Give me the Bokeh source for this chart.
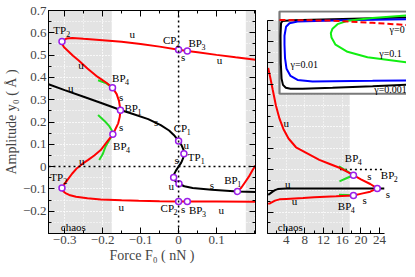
from bokeh.plotting import figure
from bokeh.layouts import row
from bokeh.models import Range1d, LinearAxis, FixedTicker, BoxAnnotation, Span, ColumnDataSource
from bokeh.core.properties import value
from bokeh.embed import file_html
from bokeh.resources import INLINE

FONT = "Liberation Serif"
RED, BLACK, GREEN, BLUE, PURPLE = "#ff0000", "#000000", "#22dd22", "#0000ff", "#9b1fe8"
GRAY = "#e3e3e3"

# ---------------- left panel: force F0 (nN) vs amplitude y0 (A) ----------------
red_x = [0.2025, 0.15, 0.1, 0.05, 0.023, 0.0, -0.05, -0.1, -0.15, -0.2, -0.25, -0.28, -0.295, -0.303, -0.307,
         -0.306, -0.3015, -0.2925, -0.278, -0.263, -0.24, -0.213, -0.19, -0.174, -0.163, -0.157, -0.153,
         -0.155, -0.159, -0.1675, -0.173, -0.19, -0.205, -0.222, -0.238, -0.2535, -0.2675, -0.2805, -0.2925,
         -0.301, -0.307,
         -0.305, -0.298, -0.288, -0.27, -0.24, -0.205, -0.15, -0.105, -0.05, 0.0, 0.023, 0.1, 0.2025]
red_y = [0.479, 0.490, 0.501, 0.513, 0.518, 0.524, 0.538, 0.550, 0.560, 0.567, 0.573, 0.577, 0.574, 0.567, 0.561,
         0.548, 0.535, 0.521, 0.497, 0.476, 0.44, 0.402, 0.376, 0.354, 0.325, 0.295, 0.253,
         0.222, 0.194, 0.164, 0.145, 0.108, 0.074, 0.05, 0.03, 0.012, -0.007, -0.032, -0.0595,
         -0.08, -0.096,
         -0.108, -0.119, -0.127, -0.135, -0.142, -0.147, -0.151, -0.153, -0.155, -0.156, -0.156, -0.157, -0.158]
red_tail_x = [0.155, 0.165, 0.175, 0.185, 0.195, 0.2025]
red_tail_y = [-0.111, -0.095, -0.07, -0.045, -0.015, 0.005]
black_x = [-0.3425, -0.3, -0.25, -0.2, -0.153, -0.12, -0.08, -0.047, -0.025, -0.012, 0.0, 0.008, 0.013, 0.014,
           0.012, 0.007, 0.0, -0.007, -0.012, -0.013, -0.009, 0.001, 0.015, 0.037, 0.087, 0.155, 0.2025]
black_y = [0.369, 0.343, 0.313, 0.283, 0.254, 0.236, 0.213, 0.186, 0.162, 0.141, 0.115, 0.095, 0.075, 0.058,
           0.038, 0.018, 0.0, -0.018, -0.035, -0.049, -0.064, -0.077, -0.088, -0.096, -0.104, -0.1115, -0.114]
green_a_x = [-0.212, -0.19, -0.174]
green_a_y = [0.387, 0.373, 0.354]
green_b_x = [-0.212, -0.195, -0.182, -0.176, -0.173]
green_b_y = [0.231, 0.205, 0.18, 0.163, 0.145]
green_c_x = [-0.209, -0.2, -0.1925, -0.182, -0.173]
green_c_y = [0.03, 0.055, 0.089, 0.12, 0.145]
pts_x = [-0.307, -0.174, -0.153, -0.173, -0.307, 0.0, 0.023, 0.0, 0.014, -0.013, 0.001, 0.155, 0.0, 0.023]
pts_y = [0.561, 0.354, 0.253, 0.145, -0.096, 0.524, 0.518, 0.115, 0.058, -0.049, -0.077, -0.1115, -0.156, -0.156]

us_t = ["u", "u", "u", "s", "s", "s", "u", "s", "u", "s", "u", "s", "s", "u", "u", "u"]
us_x = [-0.122, -0.257, -0.284, -0.151, -0.151, 0.012, 0.1075, -0.059, 0.02, -0.005, -0.019, 0.088, 0.012, 0.112, -0.255, -0.151]
us_y = [0.596, 0.454, 0.354, 0.3125, 0.179, 0.491, 0.476, 0.201, 0.097, 0.03, -0.086, -0.082, -0.189, -0.193, 0.025, -0.179]
lab_main = ["TP", "BP", "BP", "CP", "BP", "CP", "TP", "BP", "CP", "BP", "TP", "BP"]
lab_sub = ["2", "4", "1", "2", "3", "1", "1", "1", "2", "3", "2", "4"]
lab_x = [-0.33, -0.175, -0.1425, -0.041, 0.026, -0.013, 0.024, 0.12, -0.0475, 0.0275, -0.338, -0.1725]
lab_y = [0.613, 0.399, 0.261, 0.569, 0.554, 0.171, 0.045, -0.059, -0.186, -0.193, -0.045, 0.094]

x_major = [-0.3, -0.2, -0.1, 0.0, 0.1]
x_minor = [-0.35, -0.3, -0.25, -0.2, -0.15, -0.1, -0.05, 0.0, 0.05, 0.1, 0.15, 0.2]
y_major = [-0.2, -0.1, 0.0, 0.1, 0.2, 0.3, 0.4, 0.5, 0.6, 0.7]
y_minor = [-0.3, -0.25, -0.2, -0.15, -0.1, -0.05, 0.0, 0.05, 0.1, 0.15, 0.2, 0.25, 0.3, 0.35, 0.4, 0.45,
           0.5, 0.55, 0.6, 0.65, 0.7]
chaos_left = (-0.176, 0.177)  # shaded chaotic intervals (left end / right start)

# ---------------- right panel ----------------
r_red_x = [0.15, 0.6, 1.13, 1.8, 2.57, 3.4, 4.5, 6.1, 8.3, 11.1, 13.2, 15.4, 17.0, 18.4, 20.0, 22.0, 23.5,
           22.0, 20.4, 18.4, 14.7, 10.0, 7.6, 4.0, 2.57, 1.6, 1.1, 0.6, 0.15]
r_red_y = [0.476, 0.43, 0.372, 0.3, 0.238, 0.19, 0.145, 0.104, 0.078, 0.045, 0.027, 0.008, -0.01, -0.027,
           -0.046, -0.068, -0.089,
           -0.104, -0.112, -0.122, -0.126, -0.13, -0.134, -0.138, -0.14, -0.146, -0.152, -0.158, -0.161]
r_black_x = [0.15, 0.6, 1.1, 1.6, 2.2, 3.0, 4.0, 10.0, 23.5, 25.0]
r_black_y = [-0.119, -0.112, -0.104, -0.097, -0.092, -0.090, -0.089, -0.089, -0.089, -0.089]
r_green_a_x, r_green_a_y = [15.3, 17.0, 18.4], [0.015, -0.008, -0.027]
r_green_b_x, r_green_b_y = [15.4, 17.0, 18.4], [-0.056, -0.040, -0.027]
r_green_c_x, r_green_c_y = [15.3, 17.0, 18.4], [-0.119, -0.120, -0.122]
r_pts_x = [18.4, 23.5, 18.4]
r_pts_y = [-0.027, -0.089, -0.122]
r_us_t = ["u", "u", "u", "s", "s", "s"]
r_us_x = [4.0, 4.35, 5.8, 21.8, 25.8, 20.8]
r_us_y = [0.216, -0.067, -0.149, -0.029, -0.116, -0.141]
r_lab_main = ["BP", "BP", "BP"]
r_lab_sub = ["2", "4", "4"]
r_lab_x = [24.26, 16.55, 15.05]
r_lab_y = [-0.028, 0.052, -0.171]
r_x_major = [4, 8, 12, 16, 20, 24]
r_x_minor = [2, 6, 10, 14, 18, 22]
r_chaos = (0.0, 17.6)
r_zero_line = [15.5, 25.0]

# ---------------- inset (normalised units) ----------------
in_black_u = [1.0, 0.727, 0.414, 0.102, 0.023, 0.012, 0.008, 0.010, 0.016, 0.027, 0.049, 0.086, 0.18, 0.414, 0.727, 1.0]
in_black_v = [0.916, 0.906, 0.895, 0.884, 0.874, 0.847, 0.697, 0.375, 0.182, 0.107, 0.072, 0.059, 0.061, 0.072, 0.091, 0.110]
in_blue_u = [1.0, 0.492, 0.141, 0.078, 0.051, 0.039, 0.039, 0.043, 0.055, 0.086, 0.141, 0.258, 0.414, 0.727, 1.0]
in_blue_v = [0.895, 0.884, 0.868, 0.847, 0.804, 0.697, 0.589, 0.429, 0.3, 0.214, 0.166, 0.147, 0.15, 0.155, 0.161]
in_green_u = [1.0, 0.727, 0.531, 0.453, 0.414, 0.401, 0.406, 0.4375, 0.531, 0.6875, 1.0]
in_green_v = [0.94, 0.911, 0.876, 0.836, 0.782, 0.729, 0.675, 0.589, 0.504, 0.439, 0.375]
in_red_u = [0.0, 0.414, 0.727, 1.0]
in_red_v = [0.886, 0.879, 0.852, 0.825]
in_lab_t = ["γ=0", "γ=0.1", "γ=0.01", "γ=0.001"]
in_lab_u = [0.86, 0.779, 0.086, 0.74]
in_lab_v = [0.77, 0.482, 0.357, 0.054]


def style_axis(ax, labels=True):
    ax.axis_line_color = "black"
    ax.axis_line_width = 1
    ax.major_tick_in = 6
    ax.major_tick_out = 0
    ax.minor_tick_in = 3
    ax.minor_tick_out = 0
    ax.major_tick_line_color = "black"
    ax.minor_tick_line_color = "black"
    ax.major_label_text_font = FONT
    if labels:
        ax.major_label_text_font_size = "13px"
        ax.major_label_standoff = 2
    else:
        ax.major_label_text_font_size = "1px"
        ax.major_label_text_color = None
        ax.major_label_standoff = 0
    ax.axis_label_text_font = FONT
    ax.axis_label_text_font_style = "normal"
    ax.axis_label_text_font_size = "14px"
    ax.axis_label_standoff = 1


def style_grid(g, minor=True):
    g.grid_line_color = "white"
    g.grid_line_dash = "1 2"
    g.grid_line_width = 1
    if minor:
        g.minor_grid_line_color = "white"
        g.minor_grid_line_dash = "1 2"
        g.minor_grid_line_width = 1


def add_us(fig, xs, ys, ts):
    src = ColumnDataSource(dict(x=xs, y=ys, t=ts))
    fig.text(x="x", y="y", text="t", source=src, text_font=value(FONT), text_font_size="11px",
             text_align="center", text_baseline="middle", text_color="black")


def add_sub_labels(fig, xs, ys, mains, subs):
    src = ColumnDataSource(dict(x=xs, y=ys, m=mains, s=subs))
    fig.text(x="x", y="y", text="m", source=src, text_font=value(FONT), text_font_size="11px",
             text_align="left", text_baseline="middle", text_color="black")
    fig.text(x="x", y="y", text="s", source=src, x_offset=13, y_offset=4, text_font=value(FONT),
             text_font_size="8px", text_align="left", text_baseline="middle", text_color="black")


# ======== left figure ========
p1 = figure(width=261, height=268, x_range=Range1d(-0.3425, 0.2025), y_range=Range1d(-0.3, 0.7),
            output_backend="svg", toolbar_location=None,
            min_border_left=37, min_border_right=6, min_border_top=10, min_border_bottom=35,
            x_axis_label="Force F₀ ( nN )", y_axis_label="Amplitude y₀ ( Å )")
p1.outline_line_color = "black"
xt = FixedTicker(ticks=x_major, minor_ticks=x_minor)
yt = FixedTicker(ticks=y_major, minor_ticks=y_minor)
p1.xaxis.ticker = xt
p1.yaxis.ticker = yt
p1.xgrid.ticker = xt
p1.ygrid.ticker = yt
for ax in p1.xaxis + p1.yaxis:
    style_axis(ax)
    ax.major_label_overrides = {0: "0"}
top_ax = LinearAxis(ticker=xt)
style_axis(top_ax, labels=False)
p1.add_layout(top_ax, "above")
right_ax = LinearAxis(ticker=yt)
style_axis(right_ax, labels=False)
p1.add_layout(right_ax, "right")
style_grid(p1.xgrid[0])
style_grid(p1.ygrid[0])

p1.add_layout(BoxAnnotation(right=chaos_left[0], level="image", fill_color=GRAY, fill_alpha=1, line_color=None))
p1.add_layout(BoxAnnotation(left=chaos_left[1], level="image", fill_color=GRAY, fill_alpha=1, line_color=None))
p1.add_layout(Span(location=0, dimension="width", line_color="black", line_dash="2 3", line_width=1.5))
p1.add_layout(Span(location=0, dimension="height", line_color="black", line_dash="2 3", line_width=1.5))

p1.line(green_a_x, green_a_y, line_color=GREEN, line_width=2)
p1.line(green_b_x, green_b_y, line_color=GREEN, line_width=2)
p1.line(green_c_x, green_c_y, line_color=GREEN, line_width=2)
p1.line(black_x, black_y, line_color=BLACK, line_width=2)
p1.line(red_x, red_y, line_color=RED, line_width=2)
p1.line(red_tail_x, red_tail_y, line_color=RED, line_width=2)
p1.scatter(pts_x, pts_y, marker="circle", size=6, line_color=PURPLE, line_width=1.5, fill_color="white")
add_us(p1, us_x, us_y, us_t)
add_sub_labels(p1, lab_x, lab_y, lab_main, lab_sub)
p1.text(x=[-0.31], y=[-0.269], text=["chaos"], text_font=value(FONT), text_font_size="11px",
        text_align="left", text_baseline="middle")

# ======== right figure ========
p2 = figure(width=145, height=268, x_range=Range1d(0, 29.76), y_range=Range1d(-0.3, 0.7448),
            output_backend="svg", toolbar_location=None,
            min_border_left=6, min_border_right=0, min_border_top=0, min_border_bottom=35)
p2.outline_line_color = None
rxt = FixedTicker(ticks=r_x_major, minor_ticks=r_x_minor)
p2.xaxis.ticker = rxt
p2.yaxis.ticker = yt
p2.xgrid.ticker = rxt
p2.ygrid.ticker = yt
for ax in p2.xaxis:
    style_axis(ax)
    ax.bounds = (0, 25)
for ax in p2.yaxis:
    style_axis(ax, labels=False)
    ax.bounds = (-0.3, 0.7)
style_grid(p2.xgrid[0], minor=False)
style_grid(p2.ygrid[0])
p2.add_layout(BoxAnnotation(left=r_chaos[0], right=r_chaos[1], top=0.7, bottom=-0.3, level="image",
                            fill_color=GRAY, fill_alpha=1, line_color=None))
p2.line(r_zero_line, [0, 0], line_color="black", line_dash="2 3", line_width=1.5)
p2.line(r_green_a_x, r_green_a_y, line_color=GREEN, line_width=2)
p2.line(r_green_b_x, r_green_b_y, line_color=GREEN, line_width=2)
p2.line(r_green_c_x, r_green_c_y, line_color=GREEN, line_width=2)
p2.line(r_black_x, r_black_y, line_color=BLACK, line_width=2)
p2.line(r_red_x, r_red_y, line_color=RED, line_width=2)
p2.scatter(r_pts_x, r_pts_y, marker="circle", size=6, line_color=PURPLE, line_width=1.5, fill_color="white")
add_us(p2, r_us_x, r_us_y, r_us_t)
add_sub_labels(p2, r_lab_x, r_lab_y, r_lab_main, r_lab_sub)
p2.text(x=[2.2], y=[-0.268], text=["chaos"], text_font=value(FONT), text_font_size="11px",
        text_align="left", text_baseline="middle")

# inset box and contents
INSET_X = (2.57, 29.98)
INSET_Y = (0.3547, 0.7448)
p2.quad(left=[INSET_X[0]], right=[INSET_X[1] + 2], bottom=[INSET_Y[0]], top=[INSET_Y[1] - 0.0045],
        fill_color="white", line_color="#7a7a7a", line_width=2.2)
ins = p2.subplot(x_source=Range1d(0, 1), y_source=Range1d(0, 1),
                 x_target=Range1d(*INSET_X), y_target=Range1d(*INSET_Y))
ins.line(in_black_u, in_black_v, line_color=BLACK, line_width=2)
ins.line(in_blue_u, in_blue_v, line_color=BLUE, line_width=2)
ins.line(in_green_u, in_green_v, line_color="#11ee11", line_width=2)
ins.line(in_red_u, in_red_v, line_color=RED, line_width=2, line_dash="6 3")
ins.text(x=in_lab_u, y=in_lab_v, text=in_lab_t, text_font=value(FONT), text_font_size="10px",
         text_align="left", text_baseline="middle")

layout = row(p1, p2)
open("out.html", "w").write(file_html(layout, INLINE))
